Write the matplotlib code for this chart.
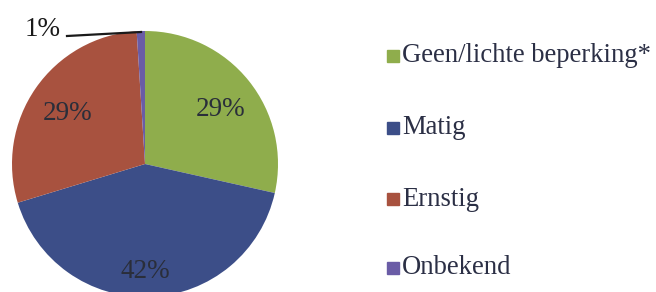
import matplotlib
matplotlib.use("Agg")
import matplotlib.pyplot as plt
from matplotlib.patches import Rectangle

categories = ["Geen/lichte beperking*", "Matig", "Ernstig", "Onbekend"]
values = [28.5, 41.8, 28.7, 1.0]
labels = ["29%", "42%", "29%", "1%"]
colors = ["#8fad4c", "#3c4e88", "#a8523f", "#6a5ca6"]

W, H = 656, 292
fig = plt.figure(figsize=(W / 100, H / 100), dpi=100)
plt.rcParams['font.family'] = ['Liberation Serif', 'DejaVu Serif']

# pie axes: center (145,164), radius 133 px
cx, cy, r = 145, 164, 133
ax = fig.add_axes([(cx - r) / W, 1 - (cy + r) / H, 2 * r / W, 2 * r / H])

wedges, _ = ax.pie(values, colors=colors, startangle=90, counterclock=False,
                   radius=1, wedgeprops=dict(linewidth=0))
for w in wedges:
    w.set_clip_on(False)
ax.set_xlim(-1, 1)
ax.set_ylim(-1, 1)
ax.set_aspect('equal')
ax.axis('off')

label_pos = [(221, 110), (145, 272), (68, 114)]
for lab, (px, py) in zip(labels[:3], label_pos):
    ax.text((px - cx) / r, (cy - py) / r, lab, ha='center', va='center',
            fontsize=19.5, color='#2a2e3a', clip_on=False)

# 1% label with leader line
ax.text((43 - cx) / r, (cy - 29) / r, labels[3], ha='center', va='center',
        fontsize=19.5, color='#1a1a1a', clip_on=False)
ax.plot([(67 - cx) / r, (141 - cx) / r], [(cy - 36) / r, (cy - 32) / r],
        color='#1a1a1a', lw=1.6, clip_on=False)

# legend
ys = [56, 128, 199, 268]
for cat, col, y in zip(categories, colors, ys):
    fig.add_artist(Rectangle((387 / W, 1 - (y + 6) / H), 12 / W, 12 / H,
                             transform=fig.transFigure, color=col))
    fig.text(402 / W, 1 - y / H, cat, ha='left', va='center',
             fontsize=19.2, color='#2b2f45')

fig.savefig("out.png", dpi=100)
